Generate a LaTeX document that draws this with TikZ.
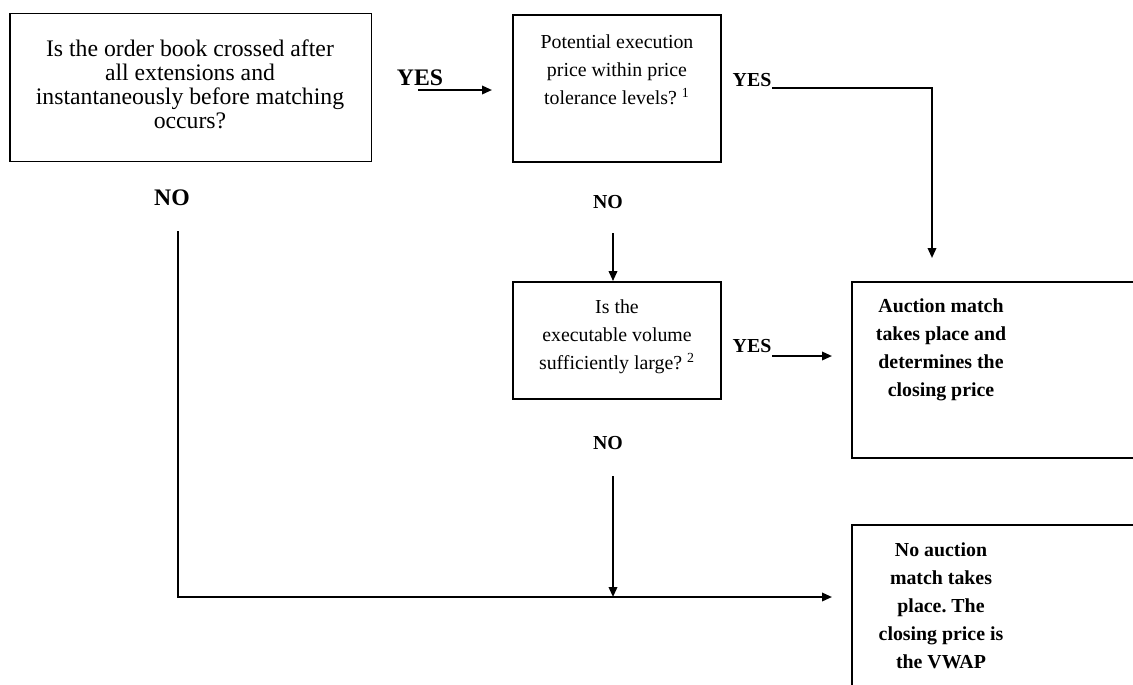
\documentclass[tikz,border=0pt]{standalone}
\usepackage{fontspec}
\setmainfont{Liberation Serif}
\usetikzlibrary{positioning, arrows.meta}
\frenchspacing

\begin{document}
\begin{tikzpicture}[
    x=0.02cm, y=-0.02cm,
    box/.style={draw, line width=1.1pt, inner sep=0pt},
    bigtxt/.style={font=\fontsize{13.5}{13.7}\selectfont, align=center, inner sep=0pt},
    smalltxt/.style={font=\fontsize{11.3}{16}\selectfont, align=center, inner sep=0pt},
    bigans/.style={font=\fontsize{13.5}{16}\selectfont\bfseries, inner sep=0pt},
    smallans/.style={font=\fontsize{11.3}{16}\selectfont\bfseries, inner sep=0pt},
    flow/.style={line width=1.1pt, -{Triangle[length=0.2cm, width=0.17cm]}},
]
\useasboundingbox (0,0) rectangle (1133,684);
\clip (0,0) rectangle (1133,684);

% decision boxes
\node[box, minimum width=7.24cm, minimum height=2.96cm] (order) at (190.5,87.5) {};
\node[bigtxt] (orderTxt) at (190,84)
    {Is the order book crossed after\\ all extensions and\\ instantaneously before matching\\ occurs?};

\node[box, minimum width=4.16cm, minimum height=2.94cm] (tolerance) at (617,88.5) {};
\node[smalltxt] (toleranceTxt) at (617,70)
    {Potential execution\\ price within price\\ tolerance levels? \textsuperscript{1}};

\node[box, minimum width=4.16cm, minimum height=2.34cm] (volume) at (617,340.5) {};
\node[smalltxt] (volumeTxt) at (617,337)
    {Is the\\ executable volume\\ sufficiently large? \textsuperscript{2}};

% outcome boxes (run past the right and bottom edge)
\node[box, minimum width=6cm, minimum height=3.52cm] (match) at (1002,370) {};
\node[smalltxt, font=\fontsize{11.3}{16}\selectfont\bfseries] (matchTxt) at (941,350)
    {Auction match\\ takes place and\\ determines the\\ closing price};

\node[box, minimum width=6cm, minimum height=3.5cm] (nomatch) at (1002,612.5) {};
\node[smalltxt, font=\fontsize{11.3}{16}\selectfont\bfseries] (nomatchTxt) at (941,606)
    {No auction\\ match takes\\ place. The\\ closing price is\\ the VWAP};

% answers
\node[bigans] (yesOrder) at (420,78) {YES};
\node[bigans] (noOrder) at (172,198) {NO};
\node[smallans] (yesTol) at (752,80) {YES};
\node[smallans] (noTol) at (608,202) {NO};
\node[smallans] (yesVol) at (752,346) {YES};
\node[smallans] (noVol) at (608,443) {NO};

% connector ends
\coordinate (yesOrderS) at (418,90);
\coordinate (yesOrderE) at (492,90);
\coordinate (yesTolS) at (772,88);
\coordinate (yesTolE) at (932,258);
\coordinate (noTolS) at (613,233);
\coordinate (yesVolS) at (772,356);
\coordinate (yesVolE) at (832,356);
\coordinate (noVolS) at (613,476);
\coordinate (noOrderS) at (178,231);
\coordinate (noEnd) at (832,597);

% connectors
\draw[flow] (yesOrderS) -- (yesOrderE);
\draw[flow] (yesTolS) -| (yesTolE);
\draw[flow] (noTolS) -- (noTolS |- volume.north);
\draw[flow] (yesVolS) -- (yesVolE);
\draw[flow] (noVolS) -- (noVolS |- noEnd);
\draw[flow] (noOrderS) |- (noEnd);

\end{tikzpicture}
\end{document}
